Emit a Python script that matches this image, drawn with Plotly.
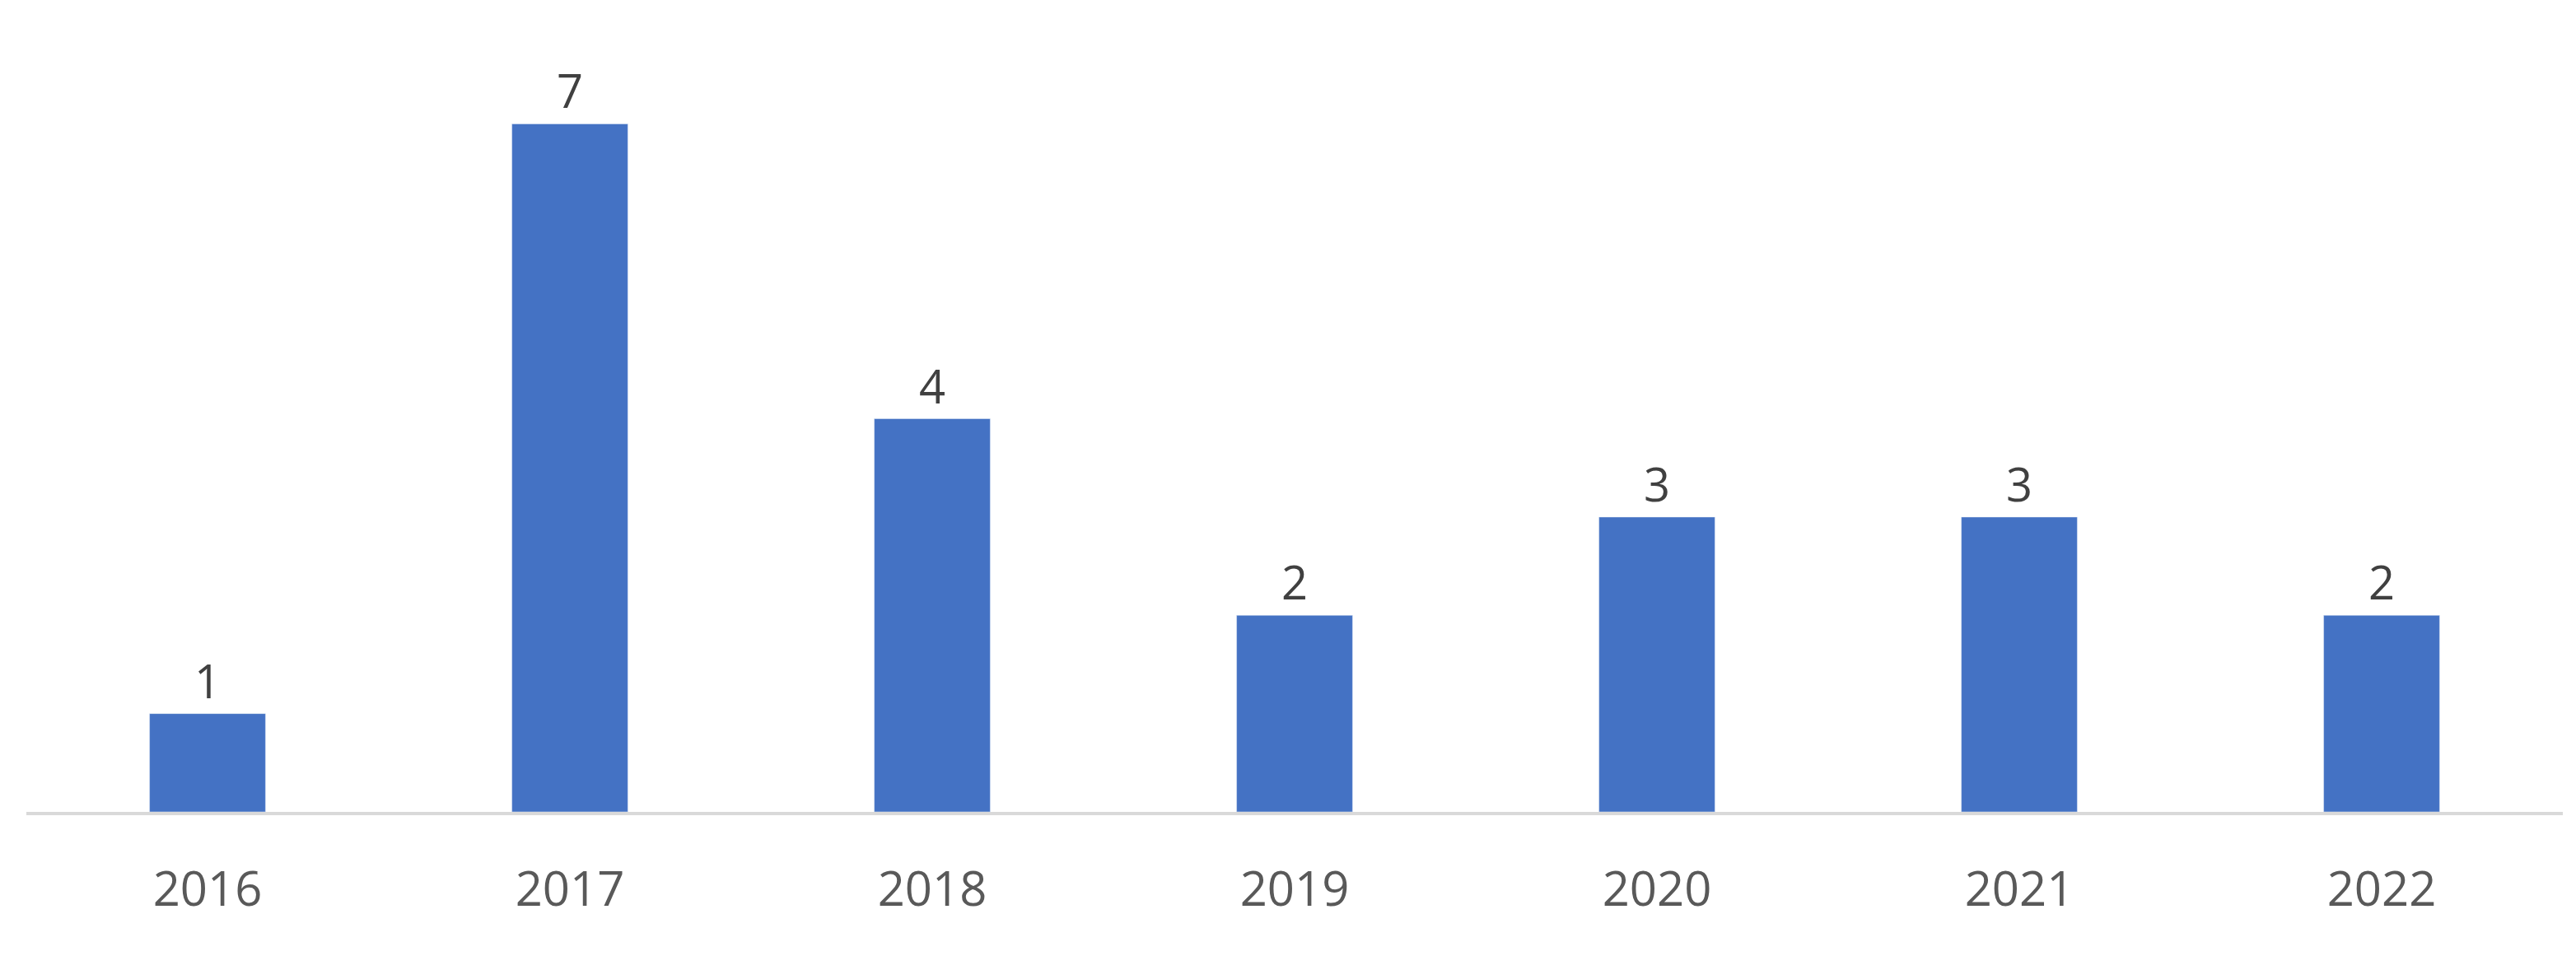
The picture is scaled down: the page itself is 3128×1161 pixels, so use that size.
import plotly.graph_objects as go

years = ["2016", "2017", "2018", "2019", "2020", "2021", "2022"]
counts = [1, 7, 4, 2, 3, 3, 2]

fig = go.Figure(go.Bar(
    x=years, y=counts, marker_color="#4472C4",
    text=counts, textposition="outside",
    textfont=dict(size=56, color="#404040", family="Open Sans"),
    cliponaxis=False,
))
fig.update_layout(
    width=3128, height=1161,
    margin=dict(l=24, r=24, t=23, b=183),
    plot_bgcolor="white", paper_bgcolor="white",
    bargap=0.68, showlegend=False,
)
fig.update_xaxes(showline=True, linecolor="#D9D9D9", linewidth=4,
                 tickfont=dict(size=58, color="#595959", family="Open Sans"),
                 ticklabelstandoff=40)
fig.update_yaxes(range=[0, 8], visible=False, showgrid=False)
fig.write_html("out.html")
